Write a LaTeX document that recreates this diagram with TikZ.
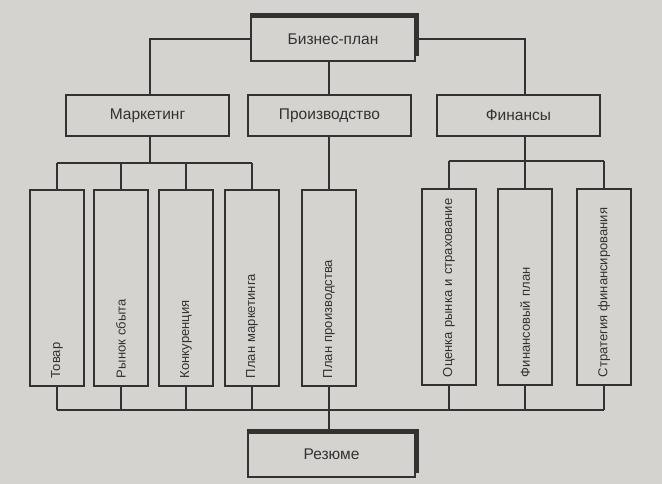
\documentclass[tikz,border=0pt]{standalone}
\usepackage{fontspec}
\setmainfont{Liberation Sans}
\definecolor{paperGray}{HTML}{D4D3CF}
\definecolor{inkGray}{HTML}{323232}
\usepackage{tikz}
\tikzset{
  wire/.style={draw=inkGray,line width=2pt},
  heavyedge/.style={draw=inkGray,line width=5pt,line join=miter},
  mainbox/.style={
    draw=inkGray,line width=2pt,text=inkGray,inner sep=0pt,
    font=\fontsize{15.5}{18}\selectfont,minimum width=163pt,minimum height=41pt,
  },
  itembox/.style={
    draw=inkGray,line width=2pt,text=inkGray,rotate=90,
    font=\fontsize{13}{16}\selectfont,minimum width=196pt,minimum height=54pt,
    inner xsep=8pt,text width=180pt,align=left,
  },
}

\begin{document}
\begin{tikzpicture}[x=1pt,y=-1pt]
   \fill[paperGray] (0,0) rectangle (662,484);

   % NODES
   \node[mainbox,minimum width=164pt,minimum height=44pt] (plan) at (333,39) {Бизнес-план}; % root
   \node[mainbox] (mark) at (147.5,115.5) {Маркетинг};
   \node[mainbox] (prod) at (329.5,115.5) {Производство};
   \node[mainbox] (fin) at (518.5,115.5) {Финансы};

   % NODES (rotated: east is top, west is bottom)
   \node[itembox] (tovar) at (57,288) {Товар};
   \node[itembox] (rynok) at (121,288) {Рынок сбыта};
   \node[itembox] (konk) at (186,288) {Конкуренция};
   \node[itembox] (planm) at (252,288) {План маркетинга};
   \node[itembox] (planp) at (329,288) {План производства};
   \node[itembox] (ocenka) at (449,287) {Оценка рынка и страхование};
   \node[itembox] (finplan) at (525,287) {Финансовый план};
   \node[itembox] (strat) at (604,287) {Стратегия финансирования};

   \node[mainbox,minimum width=167pt,minimum height=45pt] (rez) at (331.5,454.5) {Резюме};

   \coordinate (mbus) at (150,163);
   \coordinate (fbus) at (525,161);
   \coordinate (sbus) at (329,410);

   % DRAW TREE
   \path[wire] (plan.west) -| (mbus |- mark.north);
   \path[wire] (plan.east) -| (fbus |- fin.north);
   \path[wire] (sbus |- prod.north) -- (sbus |- plan.south);

   \path[wire] (mbus |- mark.south) -- (mbus);
   \path[wire] (tovar.east |- mbus) -- (planm.east |- mbus);
   \foreach \n in {tovar,rynok,konk,planm}
      \path[wire] (\n.east) -- (\n.east |- mbus);

   \path[wire] (sbus |- prod.south) -- (planp.east);

   \path[wire] (fbus |- fin.south) -- (fbus);
   \path[wire] (ocenka.east |- fbus) -- (strat.east |- fbus);
   \foreach \n in {ocenka,finplan,strat}
      \path[wire] (\n.east) -- (\n.east |- fbus);

   % BOTTOM
   \foreach \n in {tovar,rynok,konk,planm,planp,ocenka,finplan,strat}
      \path[wire] (\n.west) -- (\n.west |- sbus);
   \path[wire] (tovar.west |- sbus) -- (strat.west |- sbus);
   \path[wire] (sbus) -- (sbus |- rez.north);

   % HEAVY EDGES
   \path[heavyedge] (plan.north west) -- (plan.north east) -- ([yshift=6pt]plan.south east);
   \path[heavyedge] (rez.north west) -- (rez.north east) -- ([yshift=5pt]rez.south east);

\end{tikzpicture}
\end{document}
